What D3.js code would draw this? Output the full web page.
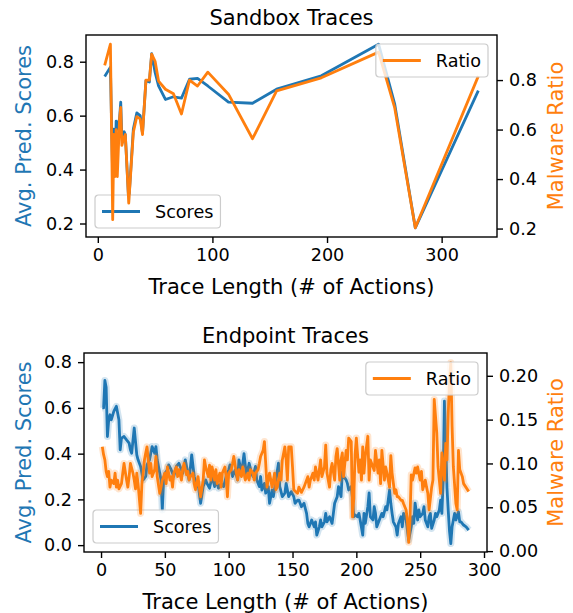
<!DOCTYPE html>
<html>
<head>
<meta charset="utf-8">
<script src="https://cdn.jsdelivr.net/npm/d3@7"></script>
<style>
    body { margin: 0; background: #fff; }
    svg { display: block; font-family: "DejaVu Sans", sans-serif; }
</style>
</head>
<body>
<div id="chart"></div>
<script>
// ---- sandbox traces (top panel) ----
var sandboxLength = [6, 11, 13, 14, 15, 16, 17, 19, 20, 21, 23, 24, 27, 31, 34, 37, 39, 42, 45, 47, 50, 53,
    59, 66, 73, 80, 87, 96, 114, 135, 156, 195, 245, 259, 277, 332];
var sandboxScores = [0.745, 0.78, 0.37, 0.55, 0.38, 0.58, 0.55, 0.59, 0.65, 0.52, 0.54, 0.53, 0.28, 0.55, 0.61,
    0.60, 0.535, 0.73, 0.725, 0.83, 0.76, 0.71, 0.66, 0.67, 0.665, 0.735, 0.738, 0.71, 0.65, 0.646, 0.698,
    0.748, 0.865, 0.644, 0.184, 0.693];
var sandboxRatio = [0.859, 0.945, 0.236, 0.58, 0.41, 0.60, 0.41, 0.643, 0.69, 0.536, 0.57, 0.58, 0.303, 0.589,
    0.652, 0.643, 0.58, 0.80, 0.80, 0.905, 0.876, 0.796, 0.763, 0.745, 0.663, 0.80, 0.776, 0.832, 0.743,
    0.563, 0.756, 0.809, 0.913, 0.689, 0.203, 0.816];

// ---- endpoint traces (bottom panel) ----
var endpointScoreLength = [1, 2, 3, 4, 5, 6, 7, 8, 10, 12, 14, 15, 16, 18, 20, 22, 23, 24, 26, 28, 29, 31, 33, 35,
    36, 38, 40, 42, 43, 44, 46, 47, 48, 49, 50, 52, 53, 55, 57, 59, 61, 63, 64, 66, 68, 69, 71, 73, 75, 76, 78,
    80, 82, 83, 85, 87, 89, 90, 92, 94, 96, 98, 100, 101, 103, 105, 107, 108, 110, 112, 114, 116, 118, 119,
    121, 122, 124, 125, 126, 128, 129, 131, 132, 134, 135, 137, 139, 140, 142, 144, 145, 147, 149, 151, 152,
    154, 155, 157, 159, 161, 162, 163, 165, 167, 168, 169, 171, 172, 173, 175, 176, 177, 179, 181, 182, 183,
    185, 186, 188, 189, 190, 192, 193, 194, 196, 197, 198, 199, 201, 202, 203, 205, 206, 207, 209, 210, 211,
    213, 214, 215, 216, 218, 220, 221, 223, 224, 226, 227, 228, 229, 231, 232, 233, 235, 236, 237, 239, 240,
    241, 243, 244, 245, 246, 248, 249, 250, 252, 253, 254, 256, 257, 258, 259, 261, 262, 263, 265, 266, 267,
    268, 269, 270, 271, 272, 273, 274, 275, 276, 277, 278, 280, 281, 282, 284, 286, 288];
var endpointScores = [0.60, 0.60, 0.72, 0.69, 0.475, 0.548, 0.57, 0.548, 0.585, 0.607, 0.548, 0.417, 0.468, 0.475,
    0.46, 0.446, 0.417, 0.402, 0.512, 0.395, 0.373, 0.344, 0.285, 0.30, 0.351, 0.373, 0.431, 0.402, 0.431,
    0.373, 0.314, 0.285, 0.154, 0.285, 0.314, 0.329, 0.351, 0.329, 0.30, 0.344, 0.358, 0.329, 0.314, 0.373,
    0.314, 0.285, 0.395, 0.30, 0.256, 0.27, 0.183, 0.256, 0.285, 0.27, 0.249, 0.30, 0.256, 0.285, 0.249, 0.27,
    0.256, 0.30, 0.329, 0.351, 0.30, 0.329, 0.285, 0.373, 0.314, 0.40, 0.30, 0.358, 0.314, 0.30, 0.344,
    0.285, 0.256, 0.30, 0.241, 0.27, 0.227, 0.256, 0.183, 0.241, 0.212, 0.285, 0.358, 0.256, 0.212, 0.227,
    0.27, 0.212, 0.234, 0.212, 0.183, 0.197, 0.197, 0.168, 0.183, 0.139, 0.095, 0.08, 0.11, 0.08, 0.102,
    0.044, 0.08, 0.11, 0.08, 0.102, 0.139, 0.102, 0.124, 0.095, 0.139, 0.183, 0.212, 0.256, 0.212, 0.32,
    0.30, 0.285, 0.27, 0.241, 0.256, 0.205, 0.124, 0.132, 0.124, 0.139, 0.11, 0.044, 0.139, 0.095, 0.168,
    0.228, 0.124, 0.11, 0.168, 0.139, 0.08, 0.11, 0.139, 0.124, 0.168, 0.154, 0.241, 0.183, 0.139, 0.102,
    0.08, 0.044, 0.095, 0.124, 0.08, 0.139, 0.11, 0.066, 0.022, 0.08, 0.124, 0.095, 0.184, 0.11, 0.154,
    0.124, 0.139, 0.168, 0.11, 0.08, 0.124, 0.139, 0.073, 0.11, 0.139, 0.124, 0.154, 0.197, 0.139, 0.28,
    0.63, 0.45, 0.25, 0.15, 0.06, 0.007, 0.08, 0.11, 0.139, 0.11, 0.146, 0.102, 0.102, 0.088, 0.08, 0.066];
var endpointRatioLength = [1, 2, 3, 4, 5, 6, 7, 8, 10, 11, 12, 13, 14, 16, 17, 18, 20, 21, 22, 23, 25, 26, 27, 28,
    29, 31, 32, 33, 34, 35, 36, 38, 39, 40, 42, 43, 44, 46, 47, 48, 50, 51, 52, 54, 55, 56, 57, 59, 60, 61,
    63, 64, 65, 67, 68, 69, 70, 72, 73, 74, 76, 77, 78, 80, 81, 82, 84, 85, 86, 87, 89, 90, 91, 93, 94, 95,
    97, 98, 99, 100, 102, 103, 104, 106, 107, 108, 110, 111, 112, 113, 115, 116, 117, 119, 120, 121, 123,
    124, 125, 127, 128, 129, 130, 132, 133, 134, 136, 137, 138, 140, 141, 142, 144, 145, 146, 147, 149, 150,
    151, 153, 154, 155, 157, 158, 159, 160, 162, 163, 164, 166, 167, 168, 170, 171, 172, 173, 175, 176, 177,
    179, 180, 181, 183, 184, 185, 187, 188, 189, 190, 192, 193, 194, 196, 197, 198, 199, 200, 202, 203, 204,
    205, 206, 207, 209, 210, 211, 213, 214, 215, 217, 218, 219, 220, 222, 223, 224, 226, 227, 228, 230, 231,
    232, 233, 235, 236, 237, 239, 240, 241, 242, 243, 244, 246, 247, 248, 250, 251, 252, 254, 255, 256, 257,
    259, 260, 261, 263, 264, 265, 266, 267, 269, 270, 271, 272, 273, 274, 275, 276, 278, 279, 280, 281, 283,
    284, 288];
var endpointRatio = [0.119, 0.11, 0.104, 0.091, 0.085, 0.091, 0.073, 0.081, 0.077, 0.089, 0.073, 0.081, 0.071,
    0.077, 0.089, 0.10, 0.081, 0.073, 0.085, 0.10, 0.089, 0.081, 0.071, 0.089, 0.077, 0.043, 0.077, 0.089,
    0.104, 0.112, 0.119, 0.089, 0.10, 0.085, 0.093, 0.108, 0.085, 0.066, 0.073, 0.081, 0.089, 0.077, 0.096,
    0.081, 0.085, 0.073, 0.089, 0.096, 0.085, 0.093, 0.081, 0.094, 0.10, 0.087, 0.091, 0.081, 0.085, 0.089,
    0.077, 0.07, 0.085, 0.073, 0.062, 0.081, 0.104, 0.096, 0.085, 0.098, 0.081, 0.096, 0.081, 0.093, 0.077,
    0.089, 0.073, 0.089, 0.096, 0.085, 0.062, 0.089, 0.093, 0.10, 0.108, 0.089, 0.081, 0.093, 0.085, 0.096,
    0.089, 0.081, 0.089, 0.081, 0.093, 0.089, 0.081, 0.089, 0.093, 0.10, 0.108, 0.115, 0.125, 0.10, 0.073,
    0.089, 0.081, 0.073, 0.089, 0.07, 0.073, 0.089, 0.081, 0.104, 0.119, 0.104, 0.081, 0.119, 0.119, 0.096,
    0.07, 0.067, 0.066, 0.073, 0.067, 0.07, 0.073, 0.077, 0.085, 0.073, 0.081, 0.089, 0.081, 0.096, 0.081,
    0.093, 0.104, 0.085, 0.096, 0.121, 0.089, 0.073, 0.093, 0.10, 0.081, 0.108, 0.117, 0.081, 0.104, 0.112,
    0.085, 0.115, 0.104, 0.129, 0.125, 0.039, 0.06, 0.11, 0.129, 0.09, 0.104, 0.081, 0.119, 0.089, 0.108,
    0.131, 0.081, 0.104, 0.096, 0.092, 0.115, 0.089, 0.104, 0.077, 0.115, 0.081, 0.096, 0.089, 0.073, 0.109,
    0.089, 0.066, 0.07, 0.062, 0.062, 0.058, 0.058, 0.054, 0.047, 0.035, 0.01, 0.035, 0.087, 0.081, 0.095,
    0.089, 0.096, 0.081, 0.091, 0.07, 0.081, 0.073, 0.066, 0.047, 0.073, 0.081, 0.173, 0.135, 0.096, 0.081,
    0.066, 0.112, 0.081, 0.123, 0.104, 0.157, 0.196, 0.215, 0.142, 0.096, 0.054, 0.047, 0.115, 0.093, 0.085,
    0.077, 0.068];

// tick values
var sandboxXTicks = [0, 100, 200, 300];
var sandboxScoreTicks = [0.2, 0.4, 0.6, 0.8];
var sandboxRatioTicks = [0.2, 0.4, 0.6, 0.8];
var endpointXTicks = [0, 50, 100, 150, 200, 250, 300];
var endpointScoreTicks = [0.0, 0.2, 0.4, 0.6, 0.8];
var endpointRatioTicks = [0.00, 0.05, 0.10, 0.15, 0.20];

var width = 573,
    height = 613,
    blue = "#1f77b4",
    orange = "#ff7f0e",
    lineWidth = 2.8,
    tickFont = 17.6,
    labelFont = 21;

var svg = d3.select("#chart").append("svg")
    .attr("width", width)
    .attr("height", height);

// matplotlib style 5% margin around the data
function padded(values) {
    var ext = d3.extent(values), m = (ext[1] - ext[0]) * 0.05;
    return [ext[0] - m, ext[1] + m];
}

function legend(g, x0, y0, label, color) {
    var lg = g.append("g").attr("transform", `translate(${x0},${y0})`);
    var rect = lg.append("rect")
        .attr("height", 33)
        .attr("rx", 3.5)
        .attr("fill", "#fff")
        .attr("fill-opacity", 0.8)
        .attr("stroke", "#cccccc")
        .attr("stroke-width", 1.2);
    lg.append("line")
        .attr("x1", 7).attr("x2", 45)
        .attr("y1", 16.5).attr("y2", 16.5)
        .attr("stroke", color)
        .attr("stroke-width", lineWidth);
    var t = lg.append("text")
        .attr("x", 60)
        .attr("y", 16.5)
        .attr("dy", "0.35em")
        .style("font-size", tickFont + "px")
        .text(label);
    var w = 60 + t.node().getComputedTextLength() + 7;
    rect.attr("width", w);
    return w;
}

function panel(p) {
    var b = p.box;
    var g = svg.append("g");

    var x = d3.scaleLinear().domain(p.xDomain).range([b.left, b.right]);
    var yL = d3.scaleLinear().domain(p.scoreDomain).range([b.bottom, b.top]);
    var yR = d3.scaleLinear().domain(p.ratioDomain).range([b.bottom, b.top]);

    var clipId = "clip-" + p.id;
    g.append("clipPath").attr("id", clipId)
        .append("rect")
        .attr("x", b.left).attr("y", b.top)
        .attr("width", b.right - b.left).attr("height", b.bottom - b.top);

    var lineL = d3.line().x(d => x(d[0])).y(d => yL(d[1]));
    var lineR = d3.line().x(d => x(d[0])).y(d => yR(d[1]));
    var scoreData = d3.zip(p.scoreLength, p.scores);
    var ratioData = d3.zip(p.ratioLength, p.ratio);

    function drawLine(data, line, color) {
        // faint halo standing in for the confidence band
        if (p.band) {
            g.append("path").datum(data)
                .attr("clip-path", `url(#${clipId})`)
                .attr("fill", "none").attr("stroke", color)
                .attr("stroke-opacity", 0.2).attr("stroke-width", 7)
                .attr("stroke-linejoin", "round")
                .attr("d", line);
        }
        g.append("path").datum(data)
            .attr("clip-path", `url(#${clipId})`)
            .attr("fill", "none").attr("stroke", color)
            .attr("stroke-width", lineWidth)
            .attr("stroke-linejoin", "round")
            .attr("d", line);
    }

    // first axes: scores line + its legend
    drawLine(scoreData, lineL, blue);
    legend(g, b.left + 9, b.bottom - 9 - 33, "Scores", blue);

    // twin axes: ratio line + its legend on top
    drawLine(ratioData, lineR, orange);
    var rg = g.append("g");
    var rw = legend(rg, 0, b.top + 9, "Ratio", orange);
    rg.select("g").attr("transform", `translate(${b.right - 9 - rw},${b.top + 9})`);

    // axes
    function styleAxis(a) {
        a.select(".domain").remove();
        a.selectAll(".tick line").attr("stroke", "#000").attr("stroke-width", 1.4);
        a.selectAll(".tick text").attr("fill", "#000").style("font-size", tickFont + "px")
            .style("font-family", "'DejaVu Sans', sans-serif");
    }
    g.append("g")
        .attr("transform", `translate(0,${b.bottom})`)
        .call(d3.axisBottom(x).tickValues(p.xTicks).tickFormat(d3.format("d")).tickSize(6).tickPadding(6))
        .call(styleAxis);
    g.append("g")
        .attr("transform", `translate(${b.left},0)`)
        .call(d3.axisLeft(yL).tickValues(p.scoreTicks).tickFormat(d3.format(".1f")).tickSize(6).tickPadding(6))
        .call(styleAxis);
    g.append("g")
        .attr("transform", `translate(${b.right},0)`)
        .call(d3.axisRight(yR).tickValues(p.ratioTicks).tickFormat(d3.format(p.ratioFormat)).tickSize(6).tickPadding(6))
        .call(styleAxis);

    g.append("rect")
        .attr("x", b.left).attr("y", b.top)
        .attr("width", b.right - b.left).attr("height", b.bottom - b.top)
        .attr("fill", "none").attr("stroke", "#000").attr("stroke-width", 1.4);

    // title and axis labels
    var cx = (b.left + b.right) / 2, cy = (b.top + b.bottom) / 2;
    g.append("text")
        .attr("x", cx).attr("y", b.top - 10)
        .attr("text-anchor", "middle")
        .style("font-size", labelFont + "px")
        .text(p.title);
    g.append("text")
        .attr("x", cx).attr("y", b.bottom + 57)
        .attr("text-anchor", "middle")
        .style("font-size", labelFont + "px")
        .text("Trace Length (# of Actions)");
    g.append("text")
        .attr("transform", `translate(31,${cy}) rotate(-90)`)
        .attr("text-anchor", "middle")
        .attr("fill", blue)
        .style("font-size", labelFont + "px")
        .text("Avg. Pred. Scores");
    g.append("text")
        .attr("transform", `translate(563,${cy}) rotate(-90)`)
        .attr("text-anchor", "middle")
        .attr("fill", orange)
        .style("font-size", labelFont + "px")
        .text("Malware Ratio");
}

panel({
    id: "sandbox",
    title: "Sandbox Traces",
    box: { left: 86, right: 497, top: 35, bottom: 237 },
    scoreLength: sandboxLength, scores: sandboxScores,
    ratioLength: sandboxLength, ratio: sandboxRatio,
    xDomain: padded(sandboxLength),
    scoreDomain: padded(sandboxScores),
    ratioDomain: padded(sandboxRatio),
    xTicks: sandboxXTicks, scoreTicks: sandboxScoreTicks, ratioTicks: sandboxRatioTicks,
    ratioFormat: ".1f",
    band: false
});

// y ranges of the lower panel also cover the confidence band, so they are wider than the lines
panel({
    id: "endpoint",
    title: "Endpoint Traces",
    box: { left: 84, right: 487, top: 353, bottom: 552 },
    scoreLength: endpointScoreLength, scores: endpointScores,
    ratioLength: endpointRatioLength, ratio: endpointRatio,
    xDomain: padded(endpointScoreLength),
    scoreDomain: [-0.03, 0.84],
    ratioDomain: [-0.001, 0.226],
    xTicks: endpointXTicks, scoreTicks: endpointScoreTicks, ratioTicks: endpointRatioTicks,
    ratioFormat: ".2f",
    band: true
});
</script>
</body>
</html>
